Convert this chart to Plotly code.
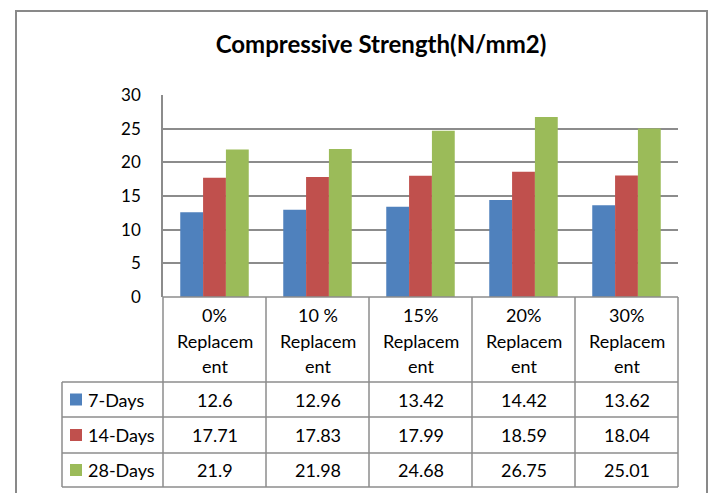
import plotly.graph_objects as go

# ---------------- data ----------------
categories = ["0% Replacement", "10 % Replacement", "15% Replacement",
              "20% Replacement", "30% Replacement"]
series_names = ["7-Days", "14-Days", "28-Days"]
days7 = [12.6, 12.96, 13.42, 14.42, 13.62]
days14 = [17.71, 17.83, 17.99, 18.59, 18.04]
days28 = [21.9, 21.98, 24.68, 26.75, 25.01]
y_ticks = [0, 5, 10, 15, 20, 25, 30]
title_text = "Compressive Strength(N/mm2)"

# ---------------- styling / layout ----------------
W, H = 713, 493
colors = ["#4F81BD", "#C0504D", "#9BBB59"]
line_col = "#8C8C8C"
FONT = "Lato, 'Open Sans', sans-serif"
TABLE_FS = 18


def px(x):
    return x / W


def py(y):
    return 1 - y / H


def excel_wrap(label, width=8):
    # percentage on its own line, long word cut like Excel did
    parts = label.split(" ")
    pct = " ".join(parts[:-1])
    word = parts[-1]
    chunks = [word[i:i + width] for i in range(0, len(word), width)]
    return [pct] + chunks


plot_l, plot_r = 163, 678
plot_t, plot_b = 95, 297
legend_l = 62
row_edges = [297, 382, 417, 453, 487]
header_line_h = 25.5

series_vals = [days7, days14, days28]

fig = go.Figure()
for name, vals, c in zip(series_names, series_vals, colors):
    fig.add_trace(go.Bar(x=categories, y=vals, name=name, marker_color=c,
                         marker_line_width=0, showlegend=False, hoverinfo="skip"))

shapes = []
# outer frame
shapes.append(dict(type="rect", xref="paper", yref="paper",
                   x0=px(16), x1=px(707), y0=py(11), y1=py(H + 20),
                   line=dict(color="#898989", width=2)))
# horizontal table lines
shapes.append(dict(type="line", xref="paper", yref="paper",
                   x0=px(plot_l), x1=px(plot_r), y0=py(row_edges[0]), y1=py(row_edges[0]),
                   line=dict(color=line_col, width=1.5)))
for ry in row_edges[1:]:
    shapes.append(dict(type="line", xref="paper", yref="paper",
                       x0=px(legend_l), x1=px(plot_r), y0=py(ry), y1=py(ry),
                       line=dict(color=line_col, width=1.5)))
# vertical table lines
n = len(categories)
col_w = (plot_r - plot_l) / n
for i in range(n + 1):
    xx = plot_l + i * col_w
    shapes.append(dict(type="line", xref="paper", yref="paper",
                       x0=px(xx), x1=px(xx), y0=py(row_edges[0]), y1=py(row_edges[-1]),
                       line=dict(color=line_col, width=1.5)))
shapes.append(dict(type="line", xref="paper", yref="paper",
                   x0=px(legend_l), x1=px(legend_l), y0=py(row_edges[1]), y1=py(row_edges[-1]),
                   line=dict(color=line_col, width=1.5)))

annotations = []
# header labels (wrapped like Excel), one annotation per line
hc = (row_edges[0] + row_edges[1]) / 2 + 1
for cat in categories:
    lines = excel_wrap(cat)
    k = len(lines)
    for j, ln in enumerate(lines):
        yy = hc + (j - (k - 1) / 2) * header_line_h
        annotations.append(dict(x=cat, xref="x", y=py(yy), yref="paper",
                                text=ln, showarrow=False,
                                font=dict(family=FONT, size=TABLE_FS, color="#000"),
                                xanchor="center", yanchor="middle"))
# rows
for r, (name, vals, c) in enumerate(zip(series_names, series_vals, colors)):
    y0, y1 = row_edges[r + 1], row_edges[r + 2]
    yc = (y0 + y1) / 2
    shapes.append(dict(type="rect", xref="paper", yref="paper",
                       x0=px(70), x1=px(82), y0=py(yc - 6), y1=py(yc + 6),
                       fillcolor=c, line=dict(width=0)))
    annotations.append(dict(x=px(86), xref="paper", y=py(yc), yref="paper",
                            text=name, showarrow=False, xanchor="left", yanchor="middle",
                            font=dict(family=FONT, size=TABLE_FS, color="#000")))
    for cat, v in zip(categories, vals):
        annotations.append(dict(x=cat, xref="x", y=py(yc), yref="paper",
                                text=f"{v:g}", showarrow=False,
                                xanchor="center", yanchor="middle",
                                font=dict(family=FONT, size=TABLE_FS, color="#000")))

fig.update_layout(
    width=W, height=H,
    margin=dict(l=0, r=0, t=0, b=0, pad=0, autoexpand=False),
    paper_bgcolor="white", plot_bgcolor="white",
    barmode="group", bargap=0.335, bargroupgap=0,
    title=dict(text=f"<b>{title_text}</b>", x=px(381), xanchor="center",
               y=py(45), yanchor="middle", automargin=False,
               font=dict(family=FONT, size=24, color="#000")),
    xaxis=dict(domain=[px(plot_l), px(plot_r)], showticklabels=False, automargin=False,
               showgrid=False, zeroline=False, showline=False, ticks=""),
    yaxis=dict(domain=[py(plot_b), py(plot_t)], range=[0, 30], tickvals=y_ticks,
               automargin=False,
               showgrid=True, gridcolor=line_col, gridwidth=1.5,
               zeroline=False, showline=True, linecolor=line_col, linewidth=1.5,
               ticks="", ticklabelstandoff=17,
               tickfont=dict(family=FONT, size=17, color="#000")),
    shapes=shapes, annotations=annotations,
)

fig.write_html("out.html", config={"displayModeBar": False},
               post_script="document.body.style.margin='0';document.body.style.overflow='hidden';")
